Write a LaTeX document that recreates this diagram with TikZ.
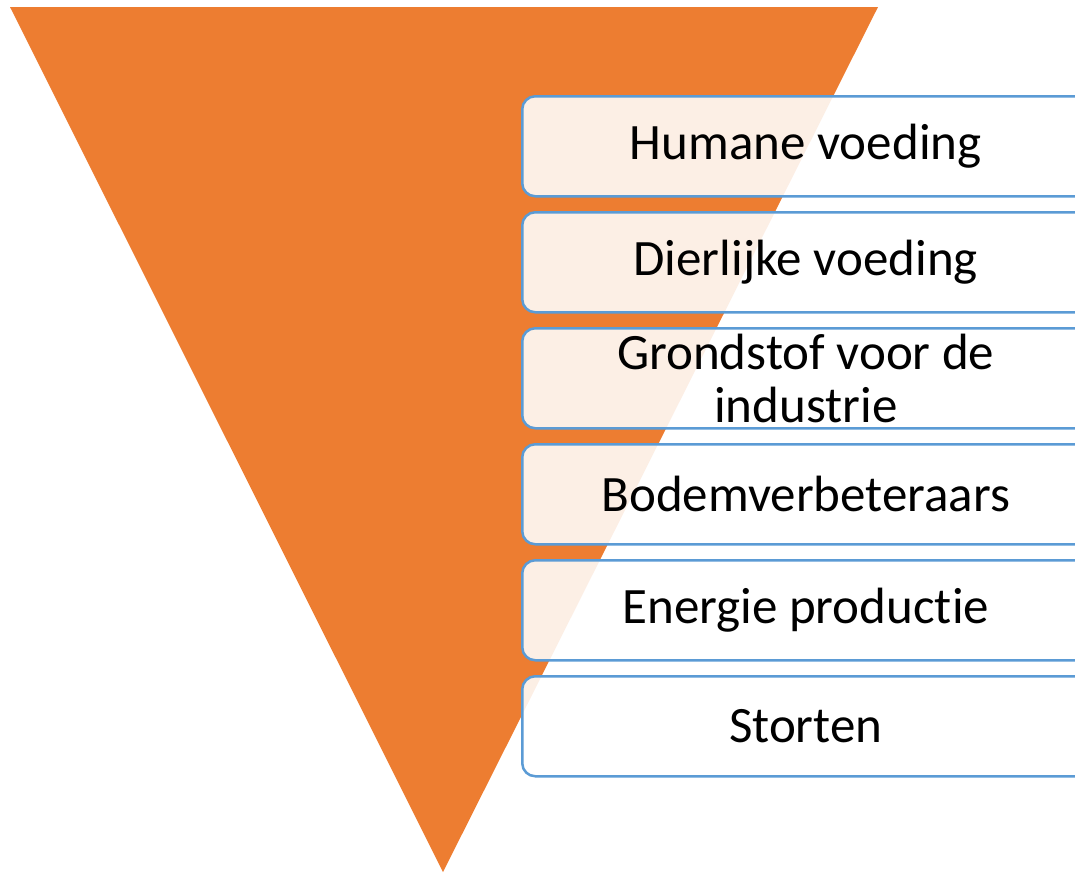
\documentclass[tikz,border=0pt]{standalone}
\usepackage{fontspec}
\setmainfont{Carlito}[Ligatures=NoCommon]
\definecolor{tri}{HTML}{ED7D31}
\definecolor{edge}{HTML}{5B9BD5}
\tikzset{
  lvl/.style={draw=edge, line width=2.5pt, fill=white, fill opacity=0.88, text opacity=1,
    rounded corners=13pt, minimum width=567pt, minimum height=100pt, anchor=north west,
    align=center, font=\fontsize{51}{53}\selectfont, inner sep=0pt}
}
\begin{document}
\begin{tikzpicture}[x=1pt,y=-1pt]
\useasboundingbox (0,0) rectangle (1075,873);
\clip (0,0) rectangle (1075,873);
\fill[tri] (10,7) coordinate (tl) -- (878,7) coordinate (tr) -- (443,872) coordinate (tip) -- cycle;
\node[lvl] (n1) at (521,95) {Humane voeding};
\node[lvl] (n2) at (521,211) {Dierlijke voeding};
\node[lvl] (n3) at (521,327) {Grondstof voor de\\industrie};
\node[lvl] (n4) at (521,443) {Bodemverbeteraars};
\node[lvl] (n5) at (521,559) {Energie productie};
\node[lvl] (n6) at (521,675) {Storten};
\end{tikzpicture}
\end{document}
